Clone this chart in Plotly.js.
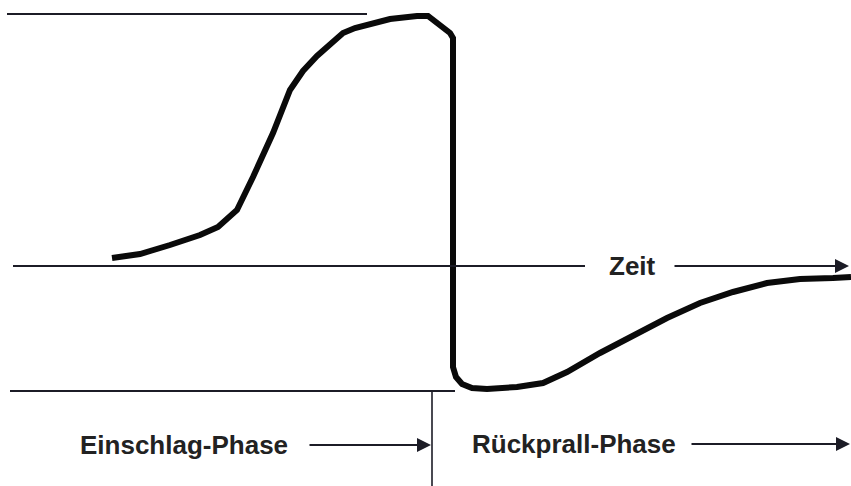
<!DOCTYPE html>
<html>
<head>
<meta charset="utf-8">
<script src="https://cdn.plot.ly/plotly-3.0.1.min.js"></script>
<style>html,body{margin:0;padding:0;background:#fff;}#chart{width:851px;height:486px;}</style>
</head>
<body>
<div id="chart"></div>
<script>
// Time (arbitrary units) and signal value (0 = time axis)
const zeit = [112,140,170,200,218,237,253,273,290,303,317,330,343,355,367,390,417,428,450,453,
              453,456,462,472,487,517,543,567,600,633,667,700,733,767,800,833,851];
const wert = [8,12,21,31,39,56,89,133,176,195,210,222,233,238,241,247,250,250,233,228,
              -101,-111,-118,-122,-123,-121,-117,-106,-87,-69,-52,-37,-26,-17,-13,-12,-11];

const axisLabel = "Zeit";
const phaseLabels = ["Einschlag-Phase", "Rückprall-Phase"];

const lineColor = "#1c1c26";
const textFont = {family: "Liberation Sans, Arial, sans-serif", size: 26, color: "#222"};

const traces = [{
  x: zeit, y: wert, type: "scatter", mode: "lines",
  line: {color: "#0a0a0a", width: 6, shape: "linear"},
  hoverinfo: "skip", showlegend: false
}];

const shapes = [
  {type: "line", xref: "x", yref: "y", x0: 7, x1: 367, y0: 252, y1: 252, line: {color: lineColor, width: 2}},
  {type: "line", xref: "x", yref: "y", x0: 13, x1: 585, y0: 0, y1: 0, line: {color: lineColor, width: 2}},
  {type: "line", xref: "x", yref: "y", x0: 10, x1: 455, y0: -125, y1: -125, line: {color: lineColor, width: 2}},
  {type: "line", xref: "x", yref: "y", x0: 432, x1: 432, y0: -125, y1: -222, line: {color: lineColor, width: 1.6}}
];

const arrowBase = {xref: "x", yref: "y", axref: "x", ayref: "y", showarrow: true, text: "",
  arrowhead: 2, arrowsize: 1.4, arrowwidth: 2, arrowcolor: lineColor, standoff: 0, startstandoff: 0};

const annotations = [
  Object.assign({}, arrowBase, {x: 849, y: 0, ax: 673, ay: 0}),
  Object.assign({}, arrowBase, {x: 431, y: -179, ax: 308, ay: -179}),
  Object.assign({}, arrowBase, {x: 850, y: -178, ax: 690, ay: -178}),
  {xref: "x", yref: "y", x: 632, y: 0, text: "<b>" + axisLabel + "</b>", showarrow: false, font: textFont, xanchor: "center", yanchor: "middle"},
  {xref: "x", yref: "y", x: 184, y: -179, text: "<b>" + phaseLabels[0] + "</b>", showarrow: false, font: textFont, xanchor: "center", yanchor: "middle"},
  {xref: "x", yref: "y", x: 574, y: -178, text: "<b>" + phaseLabels[1] + "</b>", showarrow: false, font: textFont, xanchor: "center", yanchor: "middle"}
];

const layout = {
  width: 851, height: 486,
  margin: {l: 0, r: 0, t: 0, b: 0, pad: 0},
  paper_bgcolor: "#ffffff", plot_bgcolor: "#ffffff",
  xaxis: {range: [0, 851], visible: false, fixedrange: true},
  yaxis: {range: [-220, 266], visible: false, fixedrange: true},
  shapes: shapes,
  annotations: annotations,
  showlegend: false
};

Plotly.newPlot("chart", traces, layout, {staticPlot: true, displayModeBar: false});
</script>
</body>
</html>
